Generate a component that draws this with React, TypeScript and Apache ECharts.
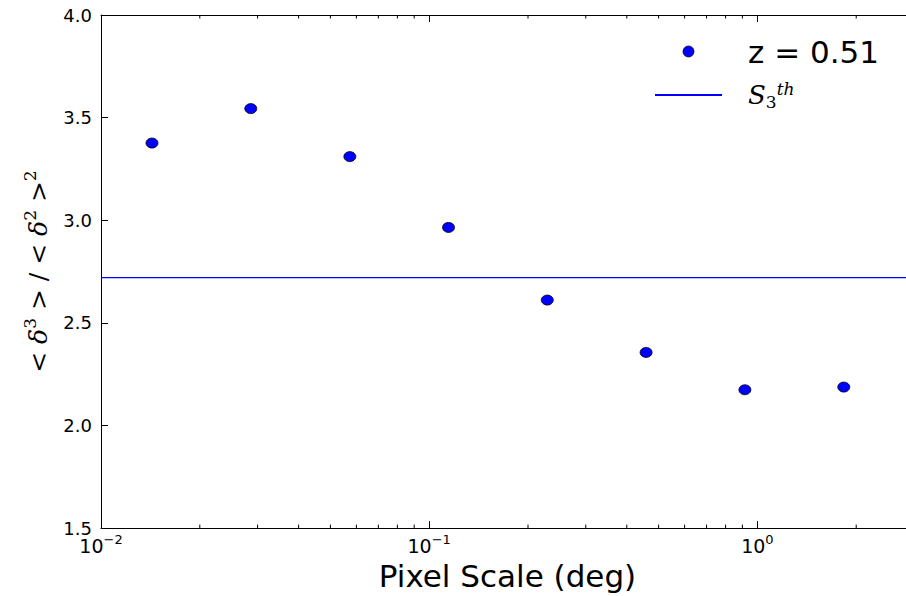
import React, { useEffect, useRef } from "react";
import * as echarts from "echarts";

const X_POINTS = [0.0143, 0.0286, 0.0573, 0.1145, 0.229, 0.458, 0.916, 1.833];
const Y_POINTS = [3.376, 3.544, 3.31, 2.965, 2.611, 2.356, 2.174, 2.187];
const S3_THEORY = 2.72;
const X_MIN = 0.01;
const X_MAX = 3;
const Y_MIN = 1.5;
const Y_MAX = 4.0;
const Y_STEP = 0.5;
const MINOR_TICKS = [
  0.02, 0.03, 0.04, 0.05, 0.06, 0.07, 0.08, 0.09,
  0.2, 0.3, 0.4, 0.5, 0.6, 0.7, 0.8, 0.9,
  2,
];
const SERIES_NAME = "z = 0.51";
const LINE_NAME = "S3th";
const X_TITLE = "Pixel Scale (deg)";

const SANS = "DejaVu Sans";
const SERIF = "DejaVu Serif";

export default function App() {
  const ref = useRef<HTMLDivElement>(null);
  useEffect(() => {
    if (!ref.current) return;
    const chart = echarts.init(ref.current, undefined, { renderer: "svg" });
    const axisCommon = {
      type: "log" as const,
      logBase: 10,
      min: X_MIN,
      max: X_MAX,
      splitLine: { show: false },
      axisLine: { show: true, lineStyle: { color: "#000", width: 1 } },
      axisTick: { show: true, inside: true, length: 7, lineStyle: { color: "#000" } },
    };
    chart.setOption({
      animation: false,
      backgroundColor: "#fff",
      grid: { left: 101, top: 15, width: 813, height: 517 },
      legend: {
        data: [
          { name: SERIES_NAME, itemStyle: { borderWidth: 0.7, borderColor: "#000", color: "#0000ff" } },
          { name: LINE_NAME, itemStyle: { opacity: 0 } },
        ],
        orient: "vertical",
        left: 654,
        top: 36,
        padding: 0,
        itemWidth: 67,
        itemHeight: 11,
        itemGap: 13,
        selectedMode: false,
        formatter: (name: string) =>
          name === LINE_NAME
            ? "{gap|}{S|S}{sub|3}{sup|th}"
            : "{gap|}{t|" + name + "}",
        textStyle: {
          color: "#000",
          rich: {
            gap: { width: 21 },
            t: { fontFamily: SANS, fontSize: 31, color: "#000", lineHeight: 30 },
            S: { fontFamily: SERIF, fontStyle: "italic", fontSize: 26, color: "#000", lineHeight: 30 },
            sub: { fontFamily: SERIF, fontSize: 17, color: "#000", verticalAlign: "bottom", lineHeight: 30 },
            sup: { fontFamily: SERIF, fontStyle: "italic", fontSize: 17, color: "#000", verticalAlign: "top", lineHeight: 22 },
          },
        },
      },
      xAxis: [
        {
          ...axisCommon,
          position: "bottom",
          name: X_TITLE,
          nameLocation: "middle",
          nameGap: 25,
          nameTextStyle: { fontFamily: SANS, fontSize: 31, color: "#000" },
          axisLabel: {
            show: true,
            margin: 5,
            showMaxLabel: false,
            formatter: (v: number) => {
              const e = Math.round(Math.log10(v));
              return "{b|10}{s|" + String(e).replace("-", "−") + "}";
            },
            rich: {
              b: { fontFamily: SANS, fontSize: 19, color: "#000", lineHeight: 22, verticalAlign: "bottom" },
              s: { fontFamily: SANS, fontSize: 13, color: "#000", lineHeight: 22, verticalAlign: "top" },
            },
          },
        },
        {
          ...axisCommon,
          position: "top",
          axisLabel: { show: false },
        },
      ],
      yAxis: {
        type: "value",
        min: Y_MIN,
        max: Y_MAX,
        interval: Y_STEP,
        splitLine: { show: false },
        axisLine: { show: true, lineStyle: { color: "#000", width: 1 } },
        axisTick: { show: true, inside: true, length: 7, lineStyle: { color: "#000" } },
        axisLabel: {
          margin: 9,
          fontFamily: SANS,
          fontSize: 18,
          color: "#000",
          formatter: (v: number) => v.toFixed(1),
        },
        name: "{a|< }{d|δ}{s|3}{a| > / < }{d|δ}{s|2}{a| >}{s|2}",
        nameLocation: "middle",
        nameGap: 50,
        nameRotate: 90,
        nameTextStyle: {
          rich: {
            a: { fontFamily: SERIF, fontSize: 25, color: "#000", lineHeight: 30, verticalAlign: "bottom" },
            d: { fontFamily: SERIF, fontStyle: "italic", fontSize: 25, color: "#000", lineHeight: 30, verticalAlign: "bottom" },
            s: { fontFamily: SERIF, fontSize: 17, color: "#000", lineHeight: 20, verticalAlign: "top" },
          },
        },
      },
      series: [
        {
          name: SERIES_NAME,
          type: "scatter",
          xAxisIndex: 0,
          data: X_POINTS.map((x, i) => [x, Y_POINTS[i]]),
          symbol: "circle",
          symbolSize: [12, 10],
          itemStyle: { color: "#0000ff", borderColor: "#000", borderWidth: 0.8, opacity: 1 },
          z: 5,
        },
        {
          name: LINE_NAME,
          type: "line",
          xAxisIndex: 0,
          data: [
            [X_MIN, S3_THEORY],
            [X_MAX, S3_THEORY],
          ],
          symbol: "none",
          showSymbol: false,
          lineStyle: { color: "#0000ff", width: 1.2 },
          itemStyle: { color: "#0000ff", opacity: 0 },
          z: 3,
        },
        {
          name: "minor",
          type: "custom",
          xAxisIndex: 0,
          silent: true,
          clip: false,
          data: MINOR_TICKS.map((v) => [v, Y_MIN]),
          renderItem: (_params: any, api: any) => {
            const x = api.value(0);
            const b = api.coord([x, Y_MIN]);
            const t = api.coord([x, Y_MAX]);
            const st = { stroke: "#000", lineWidth: 1 };
            return {
              type: "group",
              children: [
                { type: "line", shape: { x1: b[0], y1: b[1], x2: b[0], y2: b[1] - 3.5 }, style: st },
                { type: "line", shape: { x1: t[0], y1: t[1], x2: t[0], y2: t[1] + 3.5 }, style: st },
              ],
            };
          },
          z: 4,
        },
      ],
    });
    return () => chart.dispose();
  }, []);
  return (
    <div style={{ position: "absolute", left: 0, top: 0, width: 906, height: 596, overflow: "hidden" }}>
      <div ref={ref} style={{ width: 914, height: 596 }} />
    </div>
  );
}
